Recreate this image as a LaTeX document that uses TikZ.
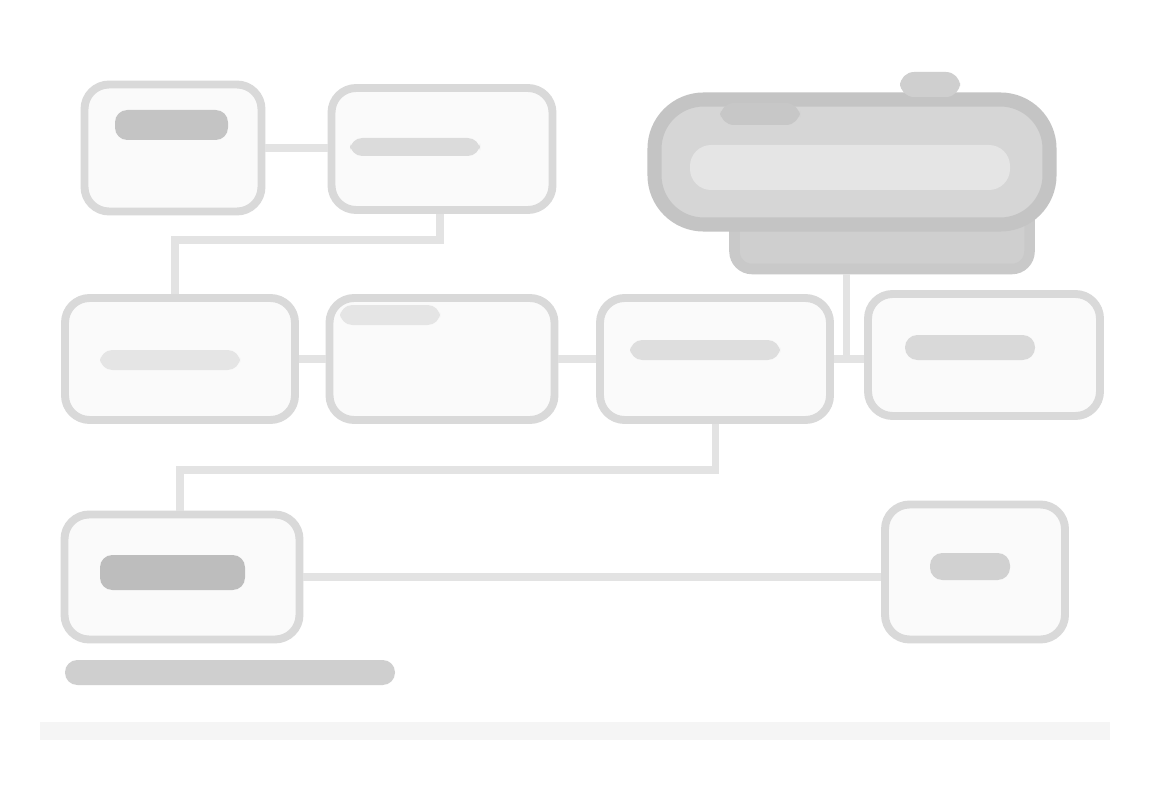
\documentclass[tikz,border=0pt]{standalone}
\usetikzlibrary{positioning}
\begin{document}
\begin{tikzpicture}[x=0.02cm,y=-0.02cm,
  box/.style={draw=black!15,line width=4.5pt,rounded corners=14pt,fill=black!2,inner sep=0pt},
  wire/.style={draw=black!11,line width=4pt},
  blob/.style={rounded corners=7pt,inner sep=0pt}]
\useasboundingbox[fill=white] (0,0) rectangle (1151,807);
% boxes
\node[box,minimum width=177*0.02cm,minimum height=127*0.02cm] (A) at (173,148) {};
\node[box,minimum width=221*0.02cm,minimum height=122*0.02cm] (B) at (442,149) {};
\node[box,minimum width=230*0.02cm,minimum height=122*0.02cm] (D) at (180,359) {};
\node[box,minimum width=225*0.02cm,minimum height=122*0.02cm] (E) at (442,359) {};
\node[box,minimum width=230*0.02cm,minimum height=122*0.02cm] (F) at (715,359) {};
\node[box,minimum width=232*0.02cm,minimum height=122*0.02cm] (G) at (984,355) {};
\node[box,minimum width=235*0.02cm,minimum height=125*0.02cm] (H) at (182,577) {};
\node[box,minimum width=180*0.02cm,minimum height=135*0.02cm] (I) at (975,572) {};
% big dark cloud
\node[draw=black!21,line width=6pt,fill=black!19,rounded corners=10pt,minimum width=295*0.02cm,minimum height=70*0.02cm,inner sep=0pt] (C2) at (882,234) {};
\node[draw=black!23,line width=8pt,fill=black!16,rounded corners=28pt,minimum width=395*0.02cm,minimum height=125*0.02cm,inner sep=0pt] (C) at (852,162) {};
\fill[black!10,rounded corners=12pt] (690,145) rectangle (1010,190);
\fill[black!22,rounded corners=8pt] (720,103) rectangle (800,125);
\fill[black!19,rounded corners=8pt] (900,72) rectangle (960,97);
% connectors
\draw[wire] (A.east) -- (B.west |- A.east);
\coordinate (b1) at (440,240);
\draw[wire] (B.south -| b1) -- (b1) -- (175,240) -- (D.north -| 175,0);
\draw[wire] (D.east) -- (E.west);
\draw[wire] (E.east) -- (F.west);
\draw[wire] (F.east) -- (G.west |- F.east);
\coordinate (cg) at (846,359);
\draw[wire] (C2.south -| cg) -- (cg);
\coordinate (f1) at (715,470);
\draw[wire] (F.south) -- (f1) -- (180,470) -- (H.north -| 180,0);
\draw[wire] (H.east) -- (I.west |- H.east);
% text-like blobs (illegible in the reference)
\fill[black!23,blob] (115,110) rectangle (228,140);
\fill[black!14,blob] (350,138) rectangle (480,156);
\fill[black!10,blob] (100,350) rectangle (240,370);
\fill[black!10,blob] (340,305) rectangle (440,325);
\fill[black!13,blob] (630,340) rectangle (780,360);
\fill[black!15,blob] (905,335) rectangle (1035,360);
\fill[black!26,blob] (100,555) rectangle (245,590);
\fill[black!18,blob] (930,553) rectangle (1010,580);
\fill[black!19,blob] (65,660) rectangle (395,685);
\fill[black!4] (40,722) rectangle (1110,740);
\end{tikzpicture}
\end{document}
